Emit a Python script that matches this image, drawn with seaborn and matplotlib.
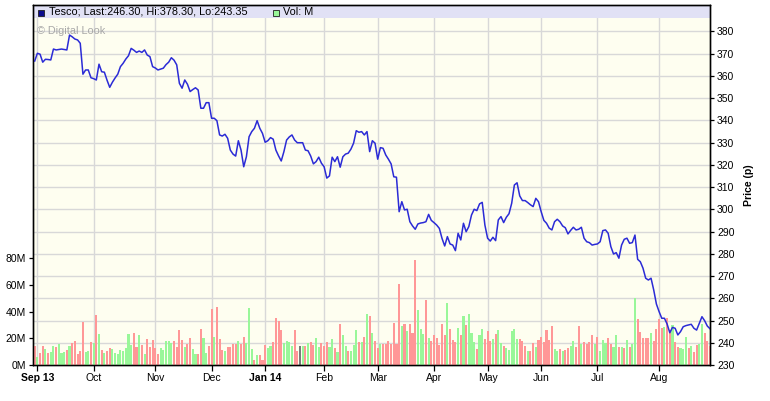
import numpy as np
import pandas as pd
import seaborn as sns
import matplotlib.pyplot as plt
from matplotlib.patches import Rectangle

# Trading days (LSE), Aug 30 2013 -> Aug 29 2014
uk_holidays = ["2013-12-25", "2013-12-26", "2014-01-01", "2014-04-18",
               "2014-04-21", "2014-05-05", "2014-05-26", "2014-08-25"]
dates = pd.bdate_range("2013-08-30", "2014-08-29", freq="C", holidays=uk_holidays)

# Close price (p)
price = [
    366.6, 370.1, 369.7, 366.1, 367.4, 367.3, 367.1, 372.0, 371.6,
    371.8, 372.0, 371.8, 371.6, 378.3, 377.5, 376.5, 376.1, 374.6, 360.7,
    362.6, 362.6, 359.1, 358.7, 358.1, 365.2, 361.8, 361.6, 358.0, 354.8,
    357.1, 359.0, 360.7, 364.1, 365.6, 367.5, 369.0, 372.3, 371.5, 370.5,
    371.1, 370.5, 371.6, 369.3, 368.6, 364.1, 363.5, 362.6, 363.0, 363.4,
    365.0, 366.1, 368.1, 367.0, 364.9, 356.6, 354.4, 358.1, 356.2, 352.9,
    353.8, 354.6, 353.6, 345.4, 345.4, 347.9, 347.9, 340.9, 340.9, 339.8,
    333.4, 332.9, 333.7, 331.9, 326.6, 324.8, 323.9, 330.8, 326.6, 319.1,
    323.6, 332.6, 334.9, 336.4, 339.8, 336.4, 334.1, 330.1, 330.8, 332.2,
    331.5, 326.6, 324.0, 321.7, 325.9, 331.1, 332.5, 333.4, 331.1, 329.9,
    329.9, 329.9, 326.6, 326.3, 323.9, 320.4, 321.4, 323.4, 320.7, 319.1,
    314.0, 315.0, 323.4, 321.4, 323.6, 318.9, 323.6, 324.8, 325.2, 327.0,
    329.7, 335.3, 334.6, 334.9, 333.4, 334.9, 325.9, 330.8, 329.7, 322.5,
    327.7, 327.4, 324.4, 322.5, 320.4, 314.6, 314.4, 298.9, 303.4, 299.7,
    300.0, 294.4, 292.5, 291.0, 293.4, 293.8, 294.0, 294.4, 297.7, 295.0,
    294.0, 292.9, 291.4, 286.9, 283.5, 287.7, 284.4, 283.9, 281.4, 289.2,
    286.2, 293.7, 289.9, 292.2, 297.4, 300.0, 299.4, 302.4, 303.1, 292.9,
    287.0, 285.7, 287.4, 285.9, 295.2, 296.7, 294.0, 296.4, 298.0, 302.7,
    310.9, 311.9, 306.0, 303.9, 303.9, 303.0, 302.0, 301.2, 304.9, 303.4,
    298.9, 295.0, 293.7, 291.5, 290.7, 294.4, 295.5, 294.4, 292.5, 291.7,
    288.9, 290.5, 291.9, 290.7, 291.0, 291.9, 287.0, 285.4, 285.0, 283.9,
    284.2, 284.4, 285.4, 290.4, 290.7, 289.2, 283.2, 279.9, 280.5, 278.0,
    283.9, 286.5, 287.0, 284.7, 285.0, 288.4, 277.5, 276.4, 273.5, 269.0,
    268.2, 269.0, 263.7, 257.4, 254.0, 251.0, 251.0, 248.4, 244.5, 246.9,
    246.5, 243.5, 245.0, 247.2, 247.7, 248.0, 248.3, 246.5, 245.7, 248.7,
    251.7, 249.9, 247.5, 246.3,
]

# Volume (millions of shares)
volume = [
    14, 6, 9, 14, 12, 9, 10, 14, 13.5, 16,
    9, 10, 11, 14, 16.5, 18, 8, 10.5, 32, 10,
    10.5, 17, 16.5, 37.5, 23, 11, 9, 10.5, 13, 12,
    9, 8, 11, 10.5, 13, 23, 15, 24, 13.5, 22.5,
    15, 8, 19.5, 13.5, 19, 12.75, 8, 12.75, 11, 18,
    18, 16.5, 18, 13.5, 26, 19, 13.5, 16, 20.5, 12,
    8.25, 8.25, 27, 20.5, 9, 14, 42, 21, 43.5, 19.5,
    11, 10.5, 13.5, 13.5, 15.75, 15.75, 18, 15.75, 21, 16.5,
    42.75, 12.25, 3.75, 7.5, 7.5, 3.75, 15, 13, 14, 17,
    35, 33, 26, 16.75, 18, 17, 14, 26, 10.5, 14,
    14.25, 14.25, 16.5, 17.25, 15, 20.25, 13.5, 16.5, 14.25, 17.25,
    13.5, 19.5, 12.75, 9.75, 30.75, 22.5, 14.25, 10.5, 10.5, 15,
    26.25, 17.25, 17.25, 21, 38.25, 36.75, 24, 18, 12.75, 15.75,
    15.75, 15.75, 18, 15.75, 31.5, 15.75, 60.75, 29.25, 30.75, 25.5,
    30.75, 24, 78.75, 41.25, 27, 23.25, 48.75, 20.25, 18, 22.5,
    20.25, 15, 30.75, 22.5, 46.5, 27, 18.75, 17.25, 27.75, 22.5,
    36.75, 30, 38.25, 24, 17.25, 12, 22.5, 27, 19.5, 25.5,
    18, 19.5, 23.25, 26.25, 16.5, 14.25, 12.75, 11.25, 25.5, 27,
    19.5, 19.5, 18, 14.25, 10.5, 10.5, 16.5, 13.5, 18.75, 21,
    17.25, 26.25, 18.75, 29.25, 12, 10.5, 12, 10.75, 11.5, 12.75,
    14.25, 18, 13.5, 29.25, 16, 17.25, 16, 17.25, 22.5, 16,
    21, 10.5, 18.75, 16.5, 20.25, 16, 13.5, 22.5, 13.5, 13.5,
    12.75, 18.75, 13.5, 16, 50, 34.5, 24.75, 20.25, 20.25, 20.25,
    24, 18, 27, 34.5, 27.75, 28.5, 35.25, 26.25, 30, 17.25,
    13.5, 12.75, 12, 21, 12.75, 14.25, 9.75, 15, 15.75, 30.75,
    24, 18, 14,
]

# Day direction: G = up, R = down, N = unchanged
direction = list(
    "RGRRGRGGRG" "GGRGRRRRRG" "GRGRGRGRRG" "GGGGGGGRRG" "RGRRRRRGGG"
    "GGRRRRGRRG" "GRRGGRRGRR" "RGRRRRGRRG" "GGRGRRRGGR" "RRRGGGGRRN"
    "GRGRRGGRRR" "GGRGRGGRGG" "GRGRGRGRRG" "RRRRRRRGRG" "RRRGGGRGRR"
    "RRRRGRRRGR" "GRGGGRGGRR" "RGRGGRGGGG" "GRRRGRRGRR" "RRRRGGRGRR"
    "GGRRGRRRRG" "RGGGRRGGRG" "RGRGGRRRRR" "GRRRRGRRGR" "RGGGRGRRGG"
    "RRR"
)

month_labels = ["Sep 13", "Oct", "Nov", "Dec", "Jan 14", "Feb", "Mar",
                "Apr", "May", "Jun", "Jul", "Aug"]
price_ticks = list(range(230, 390, 10))
volume_ticks = [0, 20, 40, 60, 80]

df = pd.DataFrame({"date": dates, "price": price, "volume": volume, "dir": direction})
df["idx"] = np.arange(len(df))

# first trading day of each month (skip the partial August 2013)
month_start = df.groupby(df["date"].dt.to_period("M"))["idx"].min().tolist()[1:]

W, H = 770, 401
plt.rcParams["font.family"] = ["Liberation Sans", "DejaVu Sans"]
fs = 7.5

fig = plt.figure(figsize=(W / 100, H / 100), dpi=100)
L, R, T, B = 33, 710, 5, 365
ax = fig.add_axes([L / W, 1 - B / H, (R - L) / W, (B - T) / H])
ax.set_facecolor("#fefef0")
ax_vol = ax.twinx()
ax_line = ax.twinx()

# volume bars
pal = {"G": "#99f799", "R": "#ff9797", "N": "#7a7a7a"}
sns.barplot(data=df, x="idx", y="volume", hue="dir", palette=pal, native_scale=True,
            dodge=False, legend=False, width=0.78, saturation=1, linewidth=0,
            antialiased=False, ax=ax_vol)

# price line
sns.lineplot(data=df, x="idx", y="price", color="#2b2bd6", lw=1.1, ax=ax_line)

xlim = (-0.63, 252.0)
for a in (ax, ax_vol, ax_line):
    a.set_xlim(*xlim)
    a.set_xlabel("")
    a.set_ylabel("")
    for s in a.spines.values():
        s.set_linewidth(0.9)
        s.set_color("black")

ax.set_ylim(230, 391.8)
ax_line.set_ylim(230, 391.8)
ax_vol.set_ylim(0, 270)

# price axis on the right with grid
ax.yaxis.tick_right()
ax.yaxis.set_label_position("right")
ax.set_yticks(price_ticks)
ax.set_yticklabels([str(v) for v in price_ticks])
ax.set_ylabel("Price (p)", fontsize=fs, fontweight="bold", labelpad=7)
ax.set_xticks(month_start)
ax.set_xticklabels(month_labels)
for lab in ax.get_xticklabels():
    if lab.get_text() in ("Sep 13", "Jan 14"):
        lab.set_fontweight("bold")
ax.tick_params(axis="y", direction="out", length=3, width=0.9, pad=2, labelsize=fs)
ax.tick_params(axis="x", direction="out", length=4, width=0.9, pad=2, labelsize=fs)
ax.set_axisbelow(True)
ax.grid(True, color="#d8d8d8", lw=1.0)

# volume axis on the left
ax_vol.yaxis.tick_left()
ax_vol.set_yticks(volume_ticks)
ax_vol.set_yticklabels([f"{v}M" for v in volume_ticks])
ax_vol.tick_params(axis="y", direction="out", length=3, width=0.9, pad=2, labelsize=fs)
ax_vol.grid(False)

ax_line.yaxis.set_visible(False)
ax_line.grid(False)

# legend band across the top of the plot
band_h = 13 / (B - T)
ax.add_patch(Rectangle((0, 1 - band_h), 1, band_h, transform=ax.transAxes,
                       facecolor="#e1e1f5", edgecolor="none", zorder=2))


def fx(px):
    return px / W


def fy(py):
    return 1 - py / H


fig.patches.append(Rectangle((fx(38), fy(15.5)), 6 / W, 6 / H, transform=fig.transFigure,
                             facecolor="#0a0a8c", edgecolor="#202020", lw=0.6))
fig.text(fx(49), fy(12), "Tesco; Last:246.30, Hi:378.30, Lo:243.35", fontsize=7.8, va="center")
fig.patches.append(Rectangle((fx(272.5), fy(15.5)), 6 / W, 6 / H, transform=fig.transFigure,
                             facecolor="#99f799", edgecolor="#202020", lw=0.6))
fig.text(fx(283), fy(12), "Vol: M", fontsize=7.8, va="center")
fig.text(fx(37), fy(31), "\u00a9 Digital Look", fontsize=7.8, va="center", color="#a8a8a8")

fig.savefig("out.png", dpi=100)
